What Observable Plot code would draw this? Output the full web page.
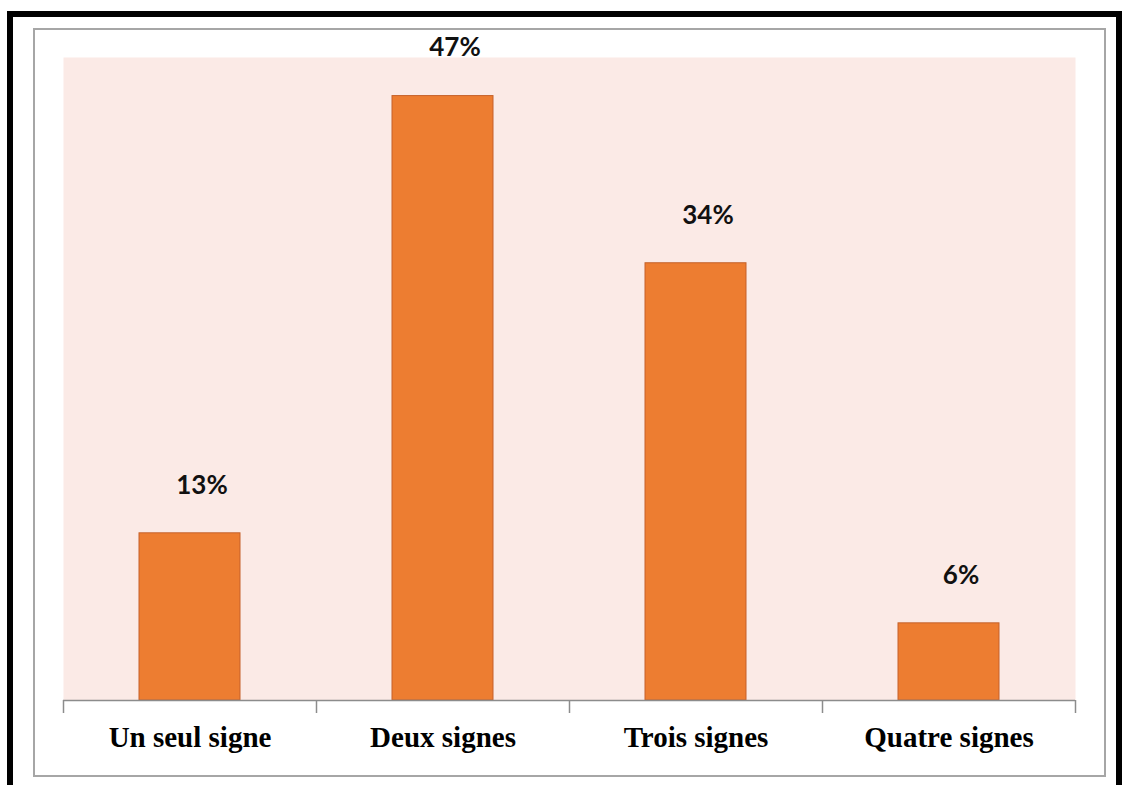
<!DOCTYPE html>
<html><head><meta charset="utf-8">
<script src="https://cdn.jsdelivr.net/npm/d3@7"></script>
<script src="https://cdn.jsdelivr.net/npm/@observablehq/plot@0.6"></script>
<style>
html,body{margin:0;padding:0;background:#fff;width:1122px;height:785px;overflow:hidden;}
#outer{position:absolute;left:7px;top:11px;width:1115px;height:800px;border:6px solid #000;box-sizing:border-box;}
#inner{position:absolute;left:33px;top:28px;width:1073px;height:749px;border:2px solid #a6a6a6;box-sizing:border-box;}
#chart{position:absolute;left:0;top:0;}
</style>
</head><body>
<div id="outer"></div>
<div id="inner"></div>
<div id="chart"></div>
<script>
const categories = ["Un seul signe", "Deux signes", "Trois signes", "Quatre signes"];
const values = [13, 47, 34, 6];
const yMax = 50;

const data = categories.map((c, i) => ({cat: c, v: values[i]}));
const W = 1122, H = 785, ML = 63, MR = 47, MT = 57, MB = 85;
const step = (W - ML - MR) / categories.length;

const chart = Plot.plot({
  width: W, height: H,
  marginLeft: ML, marginRight: MR, marginTop: MT, marginBottom: MB,
  style: {background: "transparent", overflow: "visible"},
  x: {domain: categories, paddingInner: 0.6, paddingOuter: 0.3, axis: null},
  y: {domain: [0, yMax], axis: null},
  marks: [
    Plot.frame({fill: "#FBEAE6", stroke: "none"}),
    Plot.barY(data, {x: "cat", y: "v", fill: "#ED7D31", stroke: "#C5612A", strokeWidth: 1}),
    Plot.text(data, {x: "cat", y: "v", text: d => d.v + "%", dy: -48, dx: 12, lineAnchor: "middle",
      fontSize: 26, fontWeight: "bold", fontFamily: "Lato", fill: "#111"}),
    Plot.ruleY([0], {stroke: "#8c8c8c", strokeWidth: 1.5}),
    Plot.ruleX(categories, {x: d => d, y1: 0, y2: 0, dx: -step / 2, insetBottom: -13,
      stroke: "#8c8c8c", strokeWidth: 1.5}),
    Plot.ruleX([categories[categories.length - 1]], {x: d => d, dx: step / 2, y1: 0, y2: 0, insetBottom: -13,
      stroke: "#8c8c8c", strokeWidth: 1.5}),
    Plot.axisX({tickSize: 0, tickPadding: 26, fontSize: 29, fontWeight: "bold",
      fontFamily: "Liberation Serif", fill: "#000", label: null})
  ]
});
document.getElementById("chart").appendChild(chart);
</script>
</body></html>
